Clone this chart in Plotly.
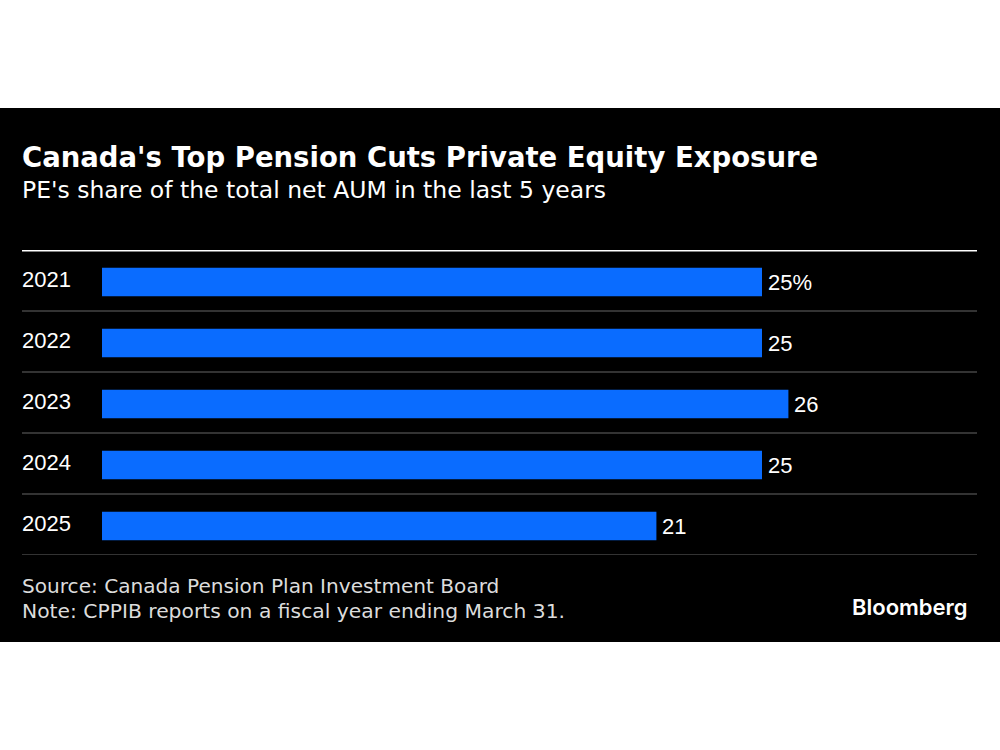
import plotly.graph_objects as go

years = ["2021", "2022", "2023", "2024", "2025"]
pe_share = [25, 25, 26, 25, 21]
value_labels = ["25%", "25", "26", "25", "21"]

title = "Canada's Top Pension Cuts Private Equity Exposure"
subtitle = "PE's share of the total net AUM in the last 5 years"
source = "Source: Canada Pension Plan Investment Board"
note = "Note: CPPIB reports on a fiscal year ending March 31."

W, H = 1000, 750
def py(y):  # pixel-from-top to paper
    return 1 - y / H

BAR_W = 0.467
fig = go.Figure()
fig.add_trace(go.Bar(
    y=years, x=pe_share, orientation="h",
    marker=dict(color="#0a6cff", line=dict(width=0)),
    width=BAR_W, offset=-BAR_W / 2 + 0.024,
    hoverinfo="skip",
))

shapes = [
    dict(type="rect", xref="paper", yref="paper", x0=0, x1=1, y0=py(642), y1=py(108),
         fillcolor="#000000", line=dict(width=0), layer="below"),
    dict(type="line", xref="paper", yref="y", x0=0.022, x1=0.977, y0=-0.5, y1=-0.5,
         line=dict(color="#ffffff", width=3), layer="below"),
]
for i in range(len(years)):
    shapes.append(dict(type="line", xref="paper", yref="y", x0=0.022, x1=0.977,
                       y0=i + 0.5, y1=i + 0.5, line=dict(color="#444444", width=1.5),
                       layer="below"))

annotations = [
    dict(text=f"<b>{title}</b>", xref="paper", yref="paper", x=0.020, y=py(157),
         xanchor="left", yanchor="middle", showarrow=False,
         font=dict(family="DejaVu Sans", size=27.5, color="#ffffff")),
    dict(text=subtitle, xref="paper", yref="paper", x=0.020, y=py(190),
         xanchor="left", yanchor="middle", showarrow=False,
         font=dict(family="DejaVu Sans", size=23.5, color="#ffffff")),
    dict(text=source, xref="paper", yref="paper", x=0.020, y=py(586),
         xanchor="left", yanchor="middle", showarrow=False,
         font=dict(family="DejaVu Sans", size=20.1, color="#dcdcdc")),
    dict(text=note, xref="paper", yref="paper", x=0.020, y=py(611),
         xanchor="left", yanchor="middle", showarrow=False,
         font=dict(family="DejaVu Sans", size=20.3, color="#dcdcdc")),
    dict(text="Bloomberg", xref="paper", yref="paper", x=0.970, y=py(607),
         xanchor="right", yanchor="middle", showarrow=False,
         font=dict(family="Inter", size=22, weight=600, color="#ffffff")),
]
for i, yr in enumerate(years):
    annotations.append(dict(text=yr, xref="paper", yref="y", x=0.020, y=i,
                            xanchor="left", yanchor="middle", yshift=1, showarrow=False,
                            font=dict(family="Liberation Sans", size=22, color="#ffffff")))
for i, (v, lab) in enumerate(zip(pe_share, value_labels)):
    annotations.append(dict(text=lab, xref="x", yref="y", x=v, y=i,
                            xanchor="left", yanchor="middle", xshift=4, yshift=-2,
                            showarrow=False,
                            font=dict(family="Liberation Sans", size=22, color="#ffffff")))

fig.update_layout(
    width=W, height=H,
    margin=dict(l=0, r=0, t=0, b=0),
    paper_bgcolor="#ffffff", plot_bgcolor="rgba(0,0,0,0)",
    showlegend=False,
    shapes=shapes, annotations=annotations,
    xaxis=dict(domain=[0.102, 0.977], range=[0, 875 / 26.4], visible=False, fixedrange=True),
    yaxis=dict(domain=[py(555), py(250)], range=[4.5, -0.5], visible=False,
               type="category", fixedrange=True),
)

fig.write_html("out.html", config=dict(displayModeBar=False),
               post_script="document.body.style.margin='0';")
